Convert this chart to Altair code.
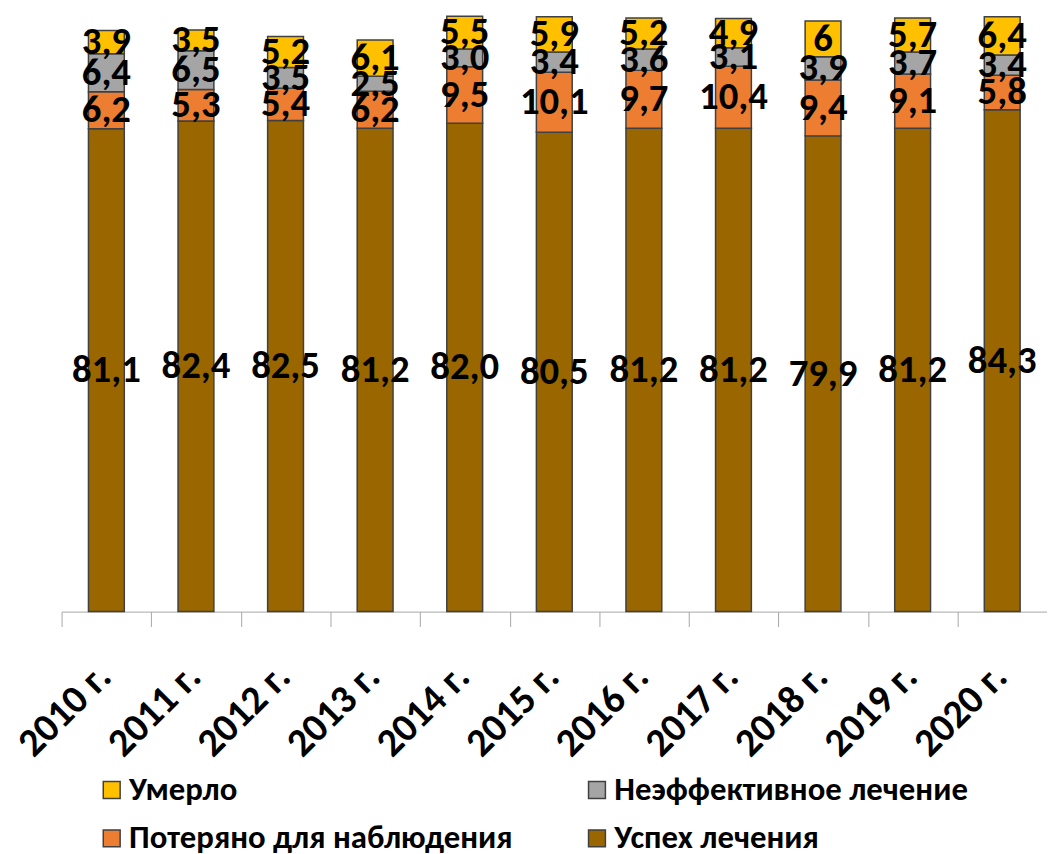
import altair as alt
import pandas as pd

years = ["2010 г.", "2011 г.", "2012 г.", "2013 г.", "2014 г.", "2015 г.",
         "2016 г.", "2017 г.", "2018 г.", "2019 г.", "2020 г."]
series = ["Успех лечения", "Потеряно для наблюдения", "Неэффективное лечение", "Умерло"]
success = [81.1, 82.4, 82.5, 81.2, 82.0, 80.5, 81.2, 81.2, 79.9, 81.2, 84.3]
lost = [6.2, 5.3, 5.4, 6.2, 9.5, 10.1, 9.7, 10.4, 9.4, 9.1, 5.8]
ineffective = [6.4, 6.5, 3.5, 2.5, 3.0, 3.4, 3.6, 3.1, 3.9, 3.7, 3.4]
died = [3.9, 3.5, 5.2, 6.1, 5.5, 5.9, 5.2, 4.9, 6.0, 5.7, 6.4]
died_labels = ["3,9", "3,5", "5,2", "6,1", "5,5", "5,9", "5,2", "4,9", "6", "5,7", "6,4"]

values = [success, lost, ineffective, died]
rows = []
for si, (name, vals) in enumerate(zip(series, values)):
    for yi, (yr, v) in enumerate(zip(years, vals)):
        lab = died_labels[yi] if name == "Умерло" else f"{v:.1f}".replace(".", ",")
        rows.append({"year": yr, "series": name, "value": v, "order": si, "label": lab})
df = pd.DataFrame(rows)

# legend is filled column by column: col 1 = Умерло / Потеряно, col 2 = Неэффективное / Успех
legend_order = ["Умерло", "Потеряно для наблюдения", "Неэффективное лечение", "Успех лечения"]
colors = ["#FFC000", "#ED7D31", "#A5A5A5", "#996600"]

FONT = "Carlito, Lato, Open Sans, sans-serif"

base = alt.Chart(df).transform_stack(
    stack="value", as_=["y0", "y1"], groupby=["year"], sort=[alt.SortField("order")]
).transform_calculate(mid="(datum.y0 + datum.y1) / 2")

xenc = alt.X("year:N", sort=years, title=None,
             scale=alt.Scale(paddingInner=0.6, paddingOuter=0.3),
             axis=alt.Axis(labelAngle=-45, labelAlign="right", labelBaseline="middle",
                           labelFont=FONT, labelFontWeight="bold", labelFontSize=40,
                           labelColor="black", labelPadding=44, labelLimit=0,
                           domainColor="#A6A6A6", tickColor="#A6A6A6", tickSize=15,
                           tickOffset=-45, labelOffset=43))

bars = base.mark_bar(stroke="#404040", strokeWidth=1.5).encode(
    x=xenc,
    y=alt.Y("y0:Q", scale=alt.Scale(domain=[0, 100], nice=False), axis=None),
    y2="y1:Q",
    color=alt.Color("series:N", scale=alt.Scale(domain=legend_order, range=colors),
                    legend=alt.Legend(title=None, orient="none", legendX=34, legendY=763,
                                      columns=2, columnPadding=68, rowPadding=15,
                                      symbolType="square", symbolSize=289,
                                      symbolStrokeColor="#404040", symbolStrokeWidth=1.5,
                                      symbolOffset=0, labelOffset=1, labelLimit=0,
                                      labelFont=FONT, labelFontSize=33, labelFontWeight="bold",
                                      labelColor="black", padding=0)),
)

texts = base.mark_text(font=FONT, fontSize=39, fontWeight="bold", color="black",
                       baseline="middle", align="center").encode(
    x=alt.X("year:N", sort=years),
    y=alt.Y("mid:Q"),
    text="label:N",
)

chart = alt.layer(bars, texts).properties(
    width=993, height=600,
    autosize=alt.AutoSizeParams(type="none"),
    padding={"left": 54, "top": 5, "right": 0, "bottom": 241},
    background="white",
).configure_view(stroke=None)

chart.save("out.html", embed_options={"renderer": "svg", "actions": False})
